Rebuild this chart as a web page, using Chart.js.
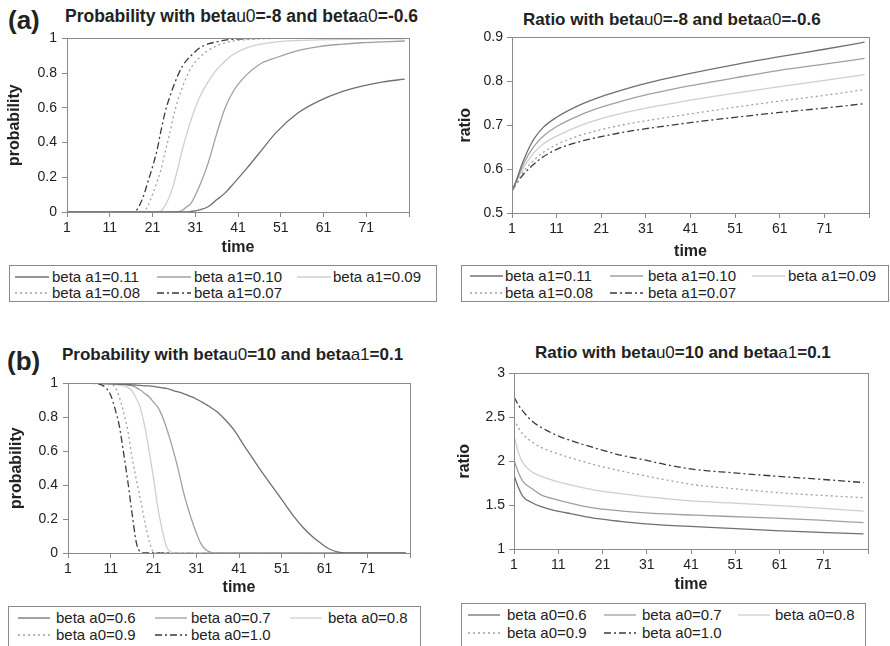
<!DOCTYPE html>
<html>
<head>
<meta charset="utf-8">
<script src="https://cdn.jsdelivr.net/npm/chart.js@4/dist/chart.umd.min.js"></script>
<style>
  html, body { margin: 0; padding: 0; background: #fff; }
  body { width: 890px; height: 646px; position: relative; overflow: hidden;
         font-family: "Liberation Sans", Arial, sans-serif; color: #222; }
  .abs { position: absolute; }
  .panel-label { font-weight: bold; font-size: 26px; line-height: 30px; white-space: nowrap; }
  .title { font-weight: bold; font-size: 17px; line-height: 20px; white-space: nowrap; }
  .title .sub { font-weight: normal; }
  .legend { border: 1.5px solid #8a8a8a; box-sizing: border-box; background: #fff; }
  .legend .txt { position: absolute; font-size: 15px; line-height: 16px; white-space: nowrap; }
  .legend svg { position: absolute; overflow: visible; }
</style>
</head>
<body>
<div class="abs panel-label" style="left:8px; top:5px;">(a)</div>
<div class="abs panel-label" style="left:7px; top:346px;">(b)</div>

<div id="tAL" class="abs title" style="left:65px; top:6px; font-size:17.5px;"></div>
<div id="tAR" class="abs title" style="left:523px; top:10px;"></div>
<div id="tBL" class="abs title" style="left:62px; top:345px;"></div>
<div id="tBR" class="abs title" style="left:535px; top:343px;"></div>

<canvas id="cAL" class="abs" width="419" height="237" style="left:0px; top:25px;"></canvas>
<canvas id="cAR" class="abs" width="434" height="238" style="left:445px; top:25px;"></canvas>
<canvas id="cBL" class="abs" width="420" height="233" style="left:0px; top:370px;"></canvas>
<canvas id="cBR" class="abs" width="433" height="238" style="left:445px; top:361px;"></canvas>

<div id="lAL" class="abs legend" style="left:9px; top:265px; width:428px; height:37px;"></div>
<div id="lAR" class="abs legend" style="left:461px; top:265px; width:428px; height:37px;"></div>
<div id="lBL" class="abs legend" style="left:8px; top:606px; width:413px; height:46px;"></div>
<div id="lBR" class="abs legend" style="left:461px; top:603px; width:405px; height:48px;"></div>

<script>
// ---------------- DATA ----------------
const xTicks = [1, 11, 21, 31, 41, 51, 61, 71];
const xEnd = 81;
const yTicksProb = [0, 0.2, 0.4, 0.6, 0.8, 1];
const yTicksRatioA = [0.5, 0.6, 0.7, 0.8, 0.9];
const yTicksRatioB = [1, 1.5, 2, 2.5, 3];

const labelsA = ['beta a1=0.11', 'beta a1=0.10', 'beta a1=0.09', 'beta a1=0.08', 'beta a1=0.07'];
const labelsB = ['beta a0=0.6', 'beta a0=0.7', 'beta a0=0.8', 'beta a0=0.9', 'beta a0=1.0'];

const titleAL = ['Probability with beta', 'u0', '=-8 and beta', 'a0', '=-0.6'];
const titleAR = ['Ratio with beta', 'u0', '=-8 and beta', 'a0', '=-0.6'];
const titleBL = ['Probability with beta', 'u0', '=10 and beta', 'a1', '=0.1'];
const titleBR = ['Ratio with beta', 'u0', '=10 and beta', 'a1', '=0.1'];

// (a) left: probability
const timeAL = [1,16,17,18,19,20,21,22,23,24,25,26,27,28,29,30,32,34,36,38,40,43,46,50,55,60,65,70,75,80];
const probA_011 = [0,0,0,0,0,0,0,0,0,0,0,0,0,0,0,0.003,0.012,0.03,0.07,0.11,0.165,0.25,0.34,0.46,0.57,0.64,0.69,0.725,0.75,0.765];
const probA_010 = [0,0,0,0,0,0,0,0,0,0,0,0,0.002,0.01,0.03,0.05,0.15,0.28,0.45,0.6,0.7,0.79,0.85,0.89,0.93,0.953,0.966,0.975,0.98,0.985];
const probA_009 = [0,0,0,0,0,0,0,0,0.006,0.04,0.09,0.165,0.26,0.36,0.45,0.53,0.66,0.75,0.82,0.87,0.91,0.945,0.965,0.98,0.988,0.992,0.994,0.996,0.997,0.997];
const probA_008 = [0,0,0,0,0.003,0.04,0.1,0.17,0.245,0.35,0.45,0.56,0.65,0.72,0.78,0.83,0.89,0.93,0.957,0.975,0.986,0.993,0.997,1,1,1,1,1,1,1];
const probA_007 = [0,0,0.005,0.04,0.1,0.18,0.26,0.35,0.47,0.58,0.66,0.73,0.79,0.84,0.875,0.9,0.945,0.968,0.98,0.99,0.995,0.998,1,1,1,1,1,1,1,1];

// (a) right: ratio
const timeAR = [1,2,3,4,5,6,8,11,16,21,26,31,36,41,51,61,71,80];
const ratioA_011 = [0.55,0.575,0.605,0.63,0.652,0.67,0.695,0.718,0.745,0.765,0.781,0.795,0.807,0.818,0.838,0.856,0.873,0.889];
const ratioA_010 = [0.55,0.573,0.598,0.62,0.638,0.653,0.675,0.697,0.722,0.741,0.756,0.769,0.78,0.79,0.808,0.825,0.839,0.852];
const ratioA_009 = [0.55,0.571,0.592,0.61,0.625,0.638,0.657,0.675,0.698,0.715,0.728,0.739,0.748,0.757,0.773,0.788,0.802,0.815];
const ratioA_008 = [0.55,0.57,0.587,0.6,0.611,0.621,0.638,0.656,0.676,0.69,0.701,0.71,0.718,0.726,0.741,0.755,0.768,0.781];
const ratioA_007 = [0.55,0.567,0.581,0.593,0.603,0.612,0.628,0.645,0.662,0.674,0.684,0.692,0.699,0.706,0.718,0.729,0.739,0.749];

// (b) left: probability
const timeBL = [1,6,8,9,10,11,12,13,14,15,16,17,18,19,20,21,22,23,24,25,26,27,28,29,30,31,32,33,34,35,36,38,40,42,44,46,48,50,52,54,56,58,60,62,64,66,70,80];
const probB_06 = [1,1,1,0.999,0.998,0.997,0.996,0.995,0.994,0.993,0.991,0.99,0.988,0.986,0.985,0.982,0.978,0.974,0.97,0.963,0.955,0.948,0.94,0.93,0.92,0.908,0.895,0.88,0.865,0.848,0.83,0.78,0.72,0.64,0.565,0.49,0.42,0.35,0.28,0.21,0.15,0.1,0.06,0.025,0.006,0,0,0];
const probB_07 = [1,1,1,1,1,0.999,0.999,0.998,0.995,0.99,0.985,0.975,0.96,0.94,0.92,0.89,0.86,0.81,0.74,0.66,0.57,0.47,0.36,0.27,0.19,0.12,0.06,0.025,0.008,0,0,0,0,0,0,0,0,0,0,0,0,0,0,0,0,0,0,0];
const probB_08 = [1,1,1,1,0.999,0.998,0.995,0.99,0.985,0.975,0.955,0.91,0.85,0.74,0.6,0.44,0.27,0.14,0.04,0.005,0,0,0,0,0,0,0,0,0,0,0,0,0,0,0,0,0,0,0,0,0,0,0,0,0,0,0,0];
const probB_09 = [1,1,1,0.999,0.998,0.995,0.98,0.92,0.83,0.72,0.56,0.43,0.31,0.18,0.07,0.005,0,0,0,0,0,0,0,0,0,0,0,0,0,0,0,0,0,0,0,0,0,0,0,0,0,0,0,0,0,0,0,0];
const probB_10 = [1,1,0.998,0.99,0.97,0.93,0.85,0.75,0.59,0.42,0.23,0.06,0.005,0,0,0,0,0,0,0,0,0,0,0,0,0,0,0,0,0,0,0,0,0,0,0,0,0,0,0,0,0,0,0,0,0,0,0];

// (b) right: ratio
const timeBR = [1,2,3,5,7,10,13,16,20,25,30,35,42,50,60,70,80];
const ratioB_06 = [1.84,1.7,1.6,1.53,1.485,1.44,1.41,1.38,1.345,1.315,1.29,1.272,1.255,1.235,1.21,1.19,1.172];
const ratioB_07 = [2.01,1.87,1.77,1.69,1.62,1.57,1.53,1.495,1.46,1.435,1.415,1.4,1.385,1.37,1.352,1.328,1.3];
const ratioB_08 = [2.29,2.1,1.98,1.88,1.83,1.78,1.74,1.705,1.665,1.63,1.6,1.575,1.545,1.525,1.498,1.465,1.432];
const ratioB_09 = [2.48,2.38,2.31,2.22,2.16,2.1,2.05,2.005,1.95,1.89,1.84,1.79,1.73,1.69,1.645,1.612,1.585];
const ratioB_10 = [2.73,2.64,2.57,2.46,2.39,2.31,2.25,2.2,2.14,2.07,2.02,1.965,1.905,1.87,1.83,1.795,1.757];

// ---------------- STYLES ----------------
const seriesStyles = [
  { color: '#707070', dash: [] },
  { color: '#a0a0a0', dash: [] },
  { color: '#cfcfcf', dash: [] },
  { color: '#a0a0a0', dash: [2, 3] },
  { color: '#3a3a3a', dash: [7, 3, 2, 3] }
];
const FONT = '"Liberation Sans", Arial, sans-serif';
const AXIS_COLOR = '#8a8a8a';

// ---------------- TITLES ----------------
function setTitle(id, parts) {
  const el = document.getElementById(id);
  parts.forEach((p, i) => {
    const s = document.createElement('span');
    if (i % 2 === 1) s.className = 'sub';
    s.textContent = p;
    el.appendChild(s);
  });
}
setTitle('tAL', titleAL); setTitle('tAR', titleAR);
setTitle('tBL', titleBL); setTitle('tBR', titleBR);

// ---------------- LEGENDS ----------------
function makeLegend(id, labels, lineX, textX, rowY, lineLen) {
  const box = document.getElementById(id);
  labels.forEach((lab, i) => {
    const col = i % 3, row = Math.floor(i / 3);
    const st = seriesStyles[i];
    const svgNS = 'http://www.w3.org/2000/svg';
    const svg = document.createElementNS(svgNS, 'svg');
    svg.setAttribute('width', lineLen); svg.setAttribute('height', 4);
    svg.style.left = lineX[col] + 'px';
    svg.style.top = (rowY[row] - 2) + 'px';
    const ln = document.createElementNS(svgNS, 'line');
    ln.setAttribute('x1', 0); ln.setAttribute('x2', lineLen);
    ln.setAttribute('y1', 2); ln.setAttribute('y2', 2);
    ln.setAttribute('stroke', st.color); ln.setAttribute('stroke-width', 1.3);
    if (st.dash.length) ln.setAttribute('stroke-dasharray', st.dash.join(' '));
    svg.appendChild(ln);
    box.appendChild(svg);
    const t = document.createElement('div');
    t.className = 'txt';
    t.textContent = lab;
    t.style.left = textX[col] + 'px';
    t.style.top = (rowY[row] - 8) + 'px';
    box.appendChild(t);
  });
}
makeLegend('lAL', labelsA, [5, 147, 287], [42, 184, 323], [11, 27], 34);
makeLegend('lAR', labelsA, [8, 148, 290], [43, 186, 326], [10, 27], 33);
makeLegend('lBL', labelsB, [9, 146, 281], [47, 182, 319], [11, 28], 32);
makeLegend('lBR', labelsB, [6, 142, 276], [45, 180, 313], [11, 29], 32);

// ---------------- CHARTS ----------------
const framePlugin = {
  id: 'frame',
  afterDatasetsDraw(chart) {
    const a = chart.chartArea, ctx = chart.ctx;
    ctx.save();
    ctx.strokeStyle = AXIS_COLOR;
    ctx.lineWidth = 1;
    ctx.strokeRect(Math.round(a.left) + 0.5, Math.round(a.top) + 0.5,
                   Math.round(a.right - a.left), Math.round(a.bottom - a.top));
    ctx.restore();
  }
};

function makeChart(canvasId, times, series, labels, yTicks, yTitle, cfg) {
  const datasets = series.map((vals, i) => ({
    label: labels[i],
    data: times.map((t, j) => ({ x: t, y: vals[j] })),
    borderColor: seriesStyles[i].color,
    borderDash: seriesStyles[i].dash,
    borderWidth: 1.3,
    pointRadius: 0,
    fill: false,
    cubicInterpolationMode: 'monotone'
  }));
  return new Chart(document.getElementById(canvasId), {
    type: 'line',
    data: { datasets },
    plugins: [framePlugin],
    options: {
      responsive: false,
      animation: false,
      devicePixelRatio: 1,
      layout: { padding: { top: 12, right: 10, bottom: 0, left: 0 } },
      plugins: { legend: { display: false }, tooltip: { enabled: false } },
      scales: {
        x: {
          type: 'linear', min: xTicks[0], max: xEnd,
          afterBuildTicks: s => { s.ticks = xTicks.concat([xEnd]).map(v => ({ value: v })); },
          afterFit: s => { s.height = cfg.xH; },
          ticks: {
            color: '#222', font: { family: FONT, size: 14 }, padding: 3, maxRotation: 0, autoSkip: false,
            callback: v => (xTicks.includes(v) ? String(v) : '')
          },
          grid: { display: true, drawOnChartArea: false, drawTicks: true, tickLength: 5, color: AXIS_COLOR, tickColor: AXIS_COLOR },
          border: { display: true, color: AXIS_COLOR, width: 1 },
          title: { display: true, text: 'time', color: '#222', font: { family: FONT, size: 16, weight: 'bold' },
                   padding: { top: 0, bottom: cfg.xTitlePad } }
        },
        y: {
          type: 'linear', min: yTicks[0], max: yTicks[yTicks.length - 1],
          afterBuildTicks: s => { s.ticks = yTicks.map(v => ({ value: v })); },
          afterFit: s => { s.width = cfg.yW; },
          ticks: { color: '#222', font: { family: FONT, size: 14 }, padding: cfg.yTickPad,
                   callback: v => String(v) },
          grid: { display: true, drawOnChartArea: false, drawTicks: true, tickLength: 5, color: AXIS_COLOR, tickColor: AXIS_COLOR },
          border: { display: true, color: AXIS_COLOR, width: 1 },
          title: { display: true, text: yTitle, color: '#222', font: { family: FONT, size: 16, weight: 'bold' },
                   padding: { top: cfg.yTitlePad, bottom: 0 } }
        }
      }
    }
  });
}

makeChart('cAL', timeAL, [probA_011, probA_010, probA_009, probA_008, probA_007], labelsA,
          yTicksProb, 'probability', { yW: 67, xH: 50, xTitlePad: 5, yTitlePad: 5.4, yTickPad: 5 });
makeChart('cAR', timeAR, [ratioA_011, ratioA_010, ratioA_009, ratioA_008, ratioA_007], labelsA,
          yTicksRatioA, 'ratio', { yW: 67, xH: 50, xTitlePad: 1.5, yTitlePad: 11.4, yTickPad: 4 });
makeChart('cBL', timeBL, [probB_06, probB_07, probB_08, probB_09, probB_10], labelsB,
          yTicksProb, 'probability', { yW: 68, xH: 50, xTitlePad: 5.4, yTitlePad: 7, yTickPad: 5 });
makeChart('cBR', timeBR, [ratioB_06, ratioB_07, ratioB_08, ratioB_09, ratioB_10], labelsB,
          yTicksRatioB, 'ratio', { yW: 69, xH: 50, xTitlePad: 4.4, yTitlePad: 10.4, yTickPad: 4 });
</script>
</body>
</html>
